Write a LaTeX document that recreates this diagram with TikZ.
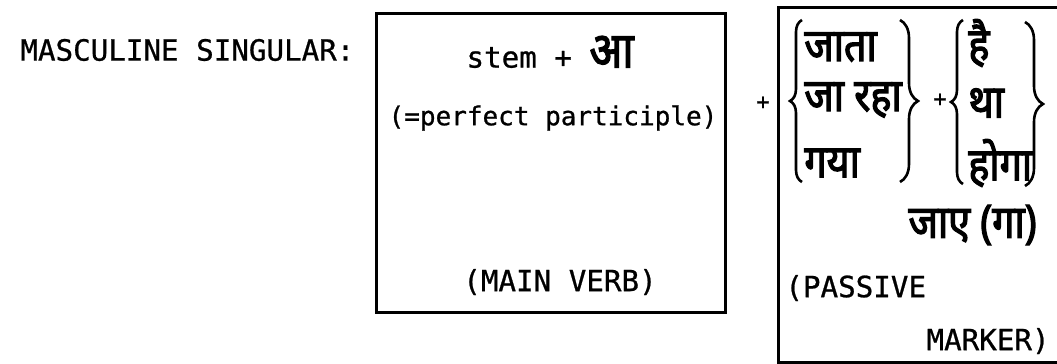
\documentclass[tikz,border=0pt]{standalone}
\usepackage{fontspec}
\setmonofont[FakeBold=0.8,AutoFakeBold=0.8]{DejaVu Sans Mono}
\newfontfamily\hindi[Script=Devanagari, FakeBold=2.6, FakeStretch=0.86]{Noto Sans}

\usetikzlibrary{decorations.pathreplacing,positioning}

\begin{document}
\begin{tikzpicture}[
    x=0.5pt, y=-0.5pt,
    rotulo/.style={font=\ttfamily\fontsize{14.6}{16}\selectfont, inner sep=0pt},
    hindi/.style={font=\hindi\fontsize{23}{24}\selectfont, inner sep=0pt},
    mais/.style={font=\ttfamily\bfseries\fontsize{11}{12}\selectfont, inner sep=0pt},
    caixa/.style={line width=1.5pt},
    chave/.style={decorate, decoration={brace, amplitude=#1}, line width=1.3pt},
    chave/.default=6pt
  ]
    \useasboundingbox (0,0) rectangle (1057,364);

    % rotulo da esquerda
    \node[rotulo, anchor=west] (genero) at (20,50) {MASCULINE SINGULAR:};

    % caixa do verbo principal
    \draw[caixa] (376,13) rectangle (725,312);
    \node[rotulo] (radical) at (550,52) {stem + {\hindi\fontsize{25}{24}\selectfont आ}};
    \node[rotulo, font=\ttfamily\fontsize{13}{16}\selectfont] (particip) at (553,118) {(=perfect participle)};
    \node[rotulo] (principal) at (560,282) {(MAIN VERB)};

    % caixa da voz passiva
    \draw[caixa] (1057,7) -| (778,362) -- (1057,362);
    \node[mais] (mais1) at (763,103) {+};

    \node[hindi, anchor=west] (jata) at (804,47) {जाता};
    \node[hindi, anchor=west] (jaraha) at (804,100) {जा रहा};
    \node[hindi, anchor=west] (gaya) at (804,163) {गया};
    \coordinate (c1a) at (802,20);
    \coordinate (c1b) at (802,182);
    \coordinate (c2a) at (900,20);
    \coordinate (c2b) at (900,182);
    \draw[chave] (c1b) -- (c1a);
    \draw[chave=9pt] (c2a) -- (c2b);

    \node[mais] (mais2) at (940,100) {+};

    \node[hindi, anchor=west] (hai) at (968,43) {है};
    \node[hindi, anchor=west] (tha) at (968,103) {था};
    \node[hindi, anchor=west] (hoga) at (968,163) {होगा};
    \coordinate (c3a) at (963,20);
    \coordinate (c3b) at (963,184);
    \coordinate (c4a) at (1025,22);
    \coordinate (c4b) at (1025,186);
    \draw[chave] (c3b) -- (c3a);
    \draw[chave=9pt] (c4a) -- (c4b);

    \node[hindi, anchor=east] (jae) at (1037,225) {जाए (गा)};
    \node[rotulo, anchor=west] (passiva) at (785,288) {(PASSIVE};
    \node[rotulo, anchor=east] (marcador) at (1050,341) {MARKER)};
  \end{tikzpicture}
\end{document}
